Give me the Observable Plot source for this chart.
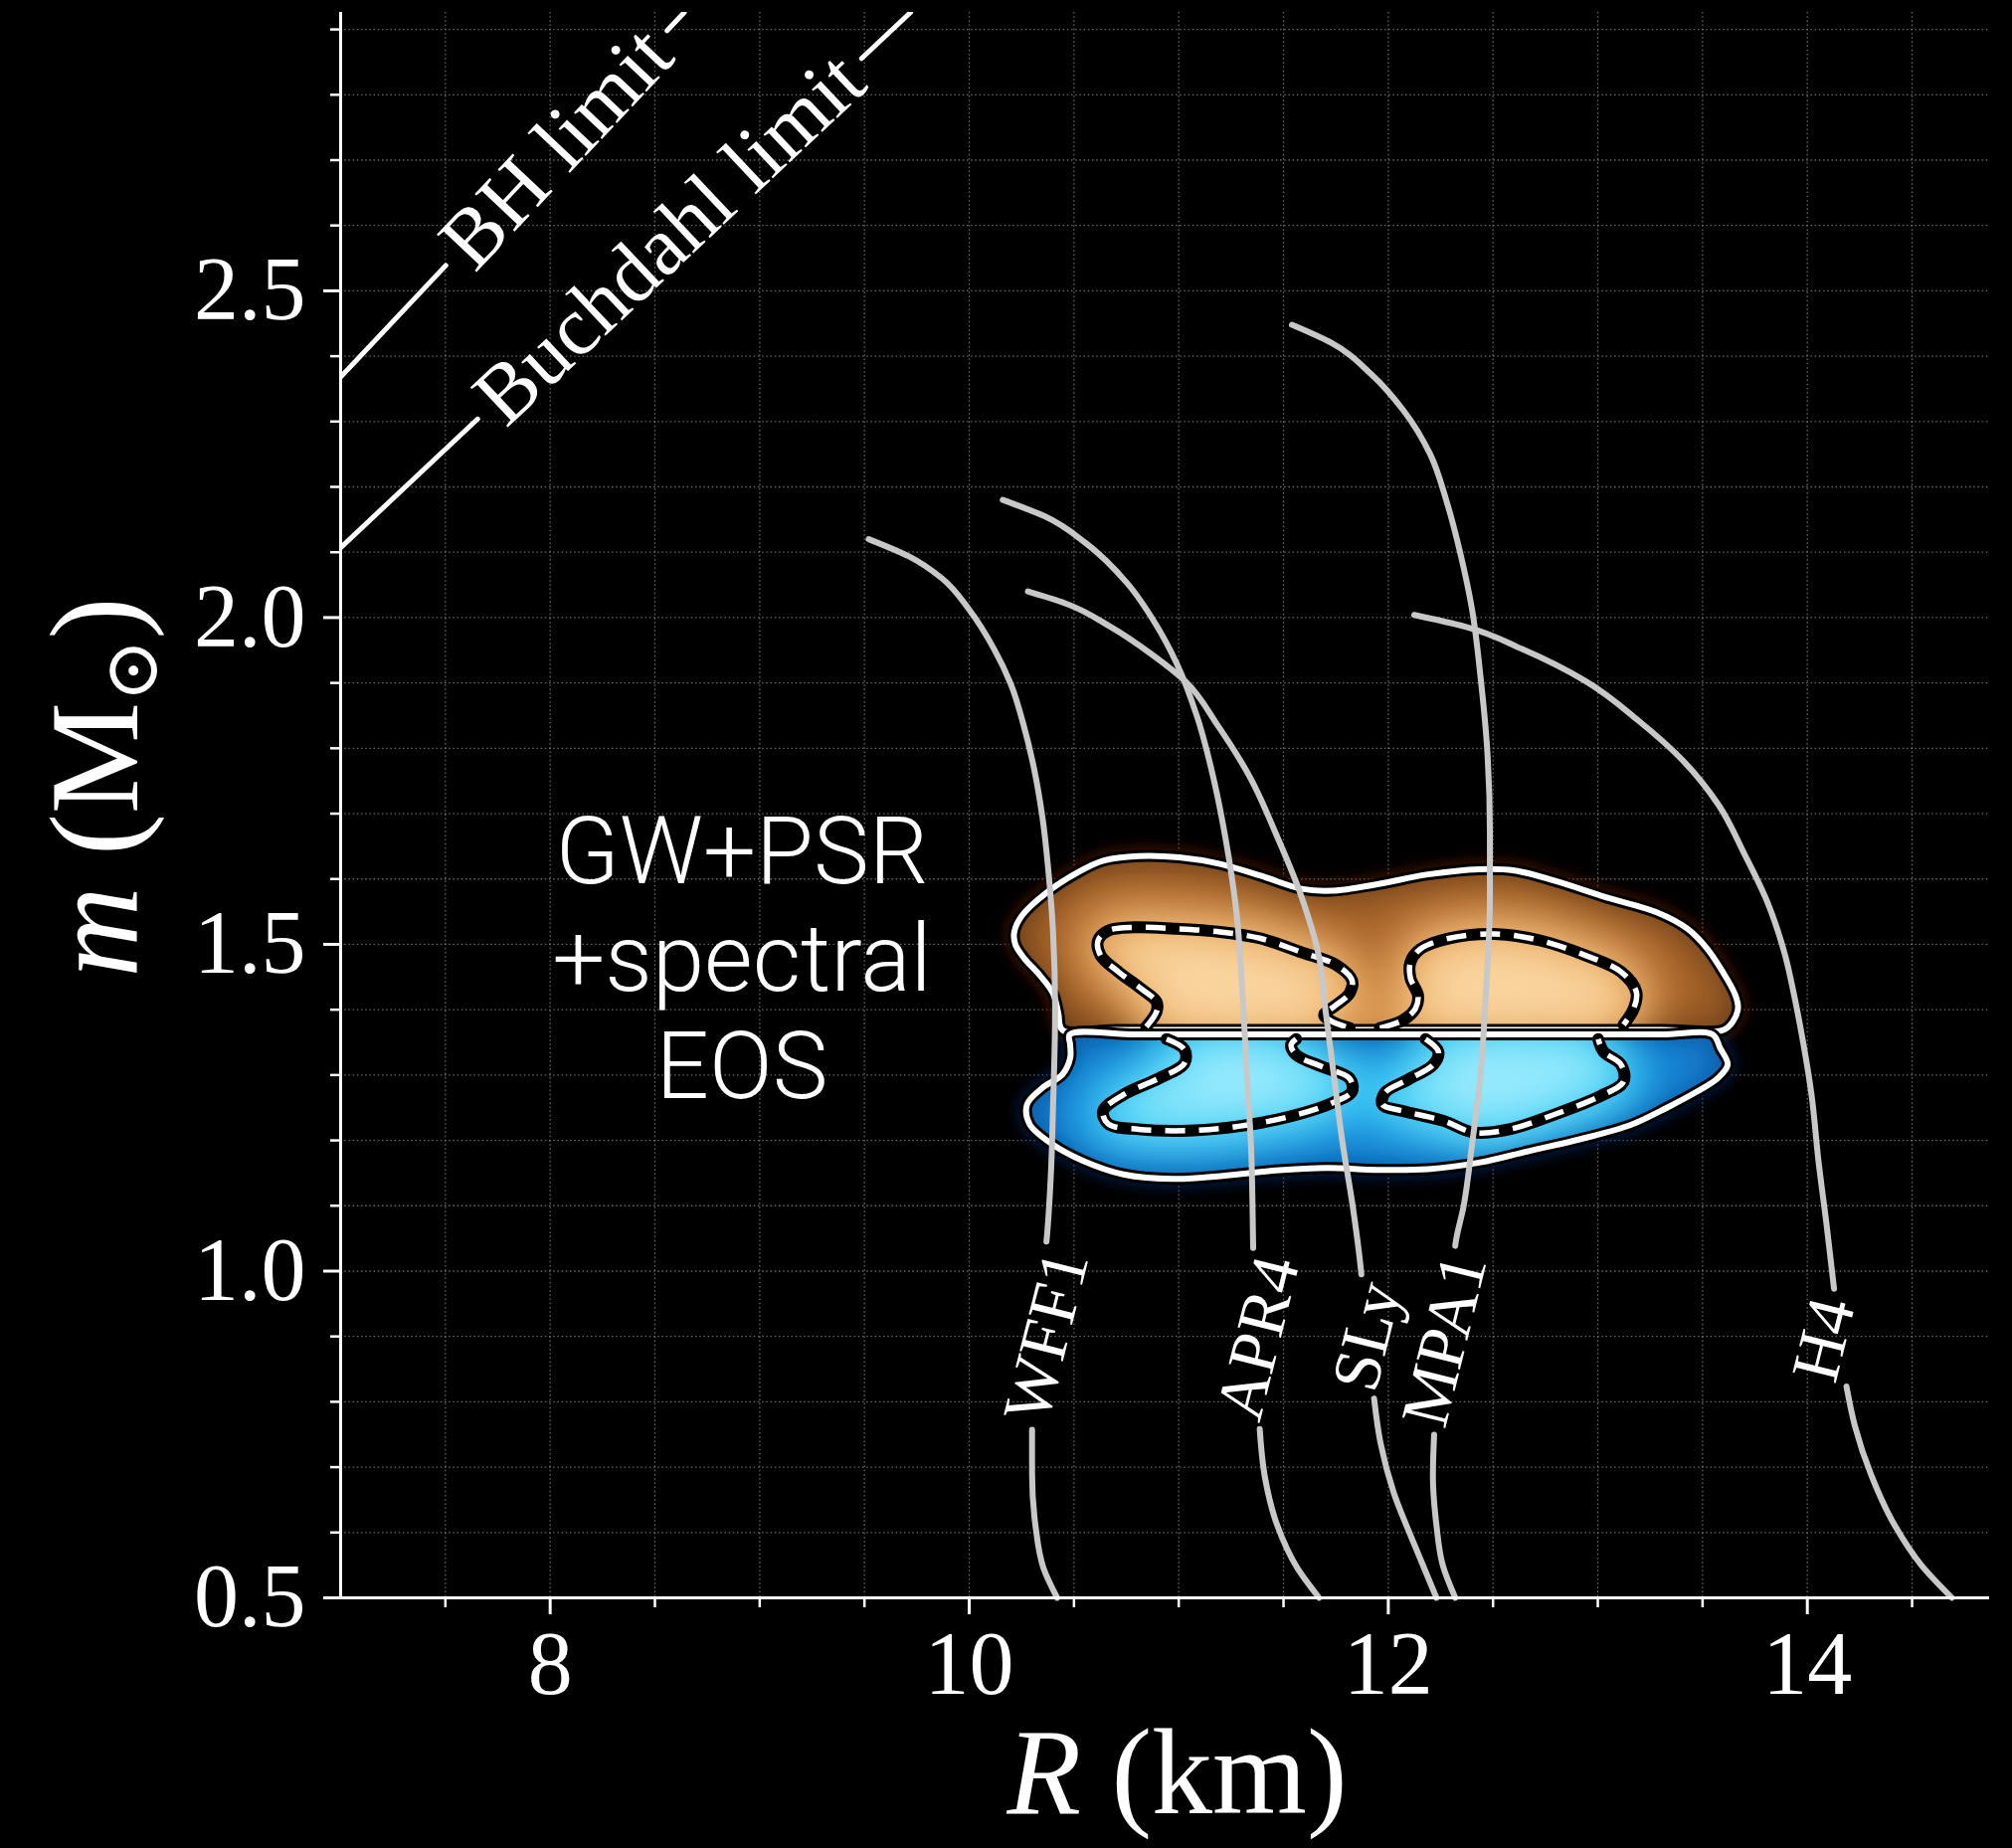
<!DOCTYPE html>
<html>
<head>
<meta charset="utf-8">
<script src="https://cdn.jsdelivr.net/npm/d3@7"></script>
<script src="https://cdn.jsdelivr.net/npm/@observablehq/plot@0.6"></script>
<style>
html, body { margin: 0; padding: 0; background: #000; }
#chart { width: 2023px; height: 1858px; }
</style>
</head>
<body>
<div id="chart"></div>
<script>
// ---------------- DATA ----------------
// Mass–radius curves [R (km), m (Msun)]
const eosNames = ["WFF1", "APR4", "SLy", "MPA1", "H4"];
const wff1 = [[9.52,2.12],[9.71,2.094],[9.87,2.06],[10.0,2.012],[10.12,1.951],[10.2,1.897],[10.26,1.835],[10.31,1.768],[10.35,1.693],[10.38,1.605],[10.40,1.52],[10.41,1.40],[10.40,1.25],[10.39,1.15],[10.37,1.05],[10.34,0.95],[10.31,0.85],[10.30,0.76],[10.30,0.69],[10.316,0.611],[10.355,0.545],[10.42,0.5]];
const apr4 = [[10.16,2.18],[10.36,2.155],[10.556,2.114],[10.753,2.053],[10.89,1.99],[10.99,1.93],[11.087,1.849],[11.166,1.754],[11.225,1.659],[11.275,1.55],[11.305,1.42],[11.325,1.30],[11.345,1.19],[11.355,1.04],[11.36,0.95],[11.37,0.85],[11.385,0.763],[11.41,0.687],[11.47,0.611],[11.567,0.545],[11.67,0.5]];
const sly  = [[10.28,2.04],[10.457,2.022],[10.674,1.986],[10.87,1.944],[11.03,1.903],[11.186,1.835],[11.343,1.754],[11.46,1.672],[11.58,1.578],[11.67,1.48],[11.70,1.40],[11.74,1.30],[11.78,1.20],[11.83,1.10],[11.87,1.0],[11.90,0.90],[11.93,0.81],[11.963,0.737],[12.026,0.661],[12.12,0.585],[12.23,0.5]];
const mpa1 = [[11.54,2.448],[11.73,2.42],[11.92,2.372],[12.07,2.318],[12.20,2.25],[12.28,2.176],[12.347,2.094],[12.40,2.012],[12.44,1.91],[12.47,1.808],[12.485,1.672],[12.485,1.57],[12.465,1.42],[12.44,1.30],[12.40,1.194],[12.36,1.10],[12.32,1.04],[12.27,0.90],[12.22,0.763],[12.213,0.687],[12.23,0.611],[12.26,0.55],[12.32,0.5]];
const h4   = [[12.124,2.004],[12.368,1.986],[12.644,1.951],[12.94,1.903],[13.195,1.842],[13.407,1.781],[13.577,1.713],[13.70,1.638],[13.81,1.564],[13.895,1.482],[13.937,1.422],[13.98,1.35],[14.02,1.27],[14.053,1.169],[14.093,1.068],[14.13,0.966],[14.155,0.90],[14.183,0.829],[14.227,0.763],[14.306,0.687],[14.417,0.611],[14.544,0.55],[14.69,0.5]];
const eosCurves = [wff1, apr4, sly, mpa1, h4];
// inline label positions (R, m)
const eosLabelR = [10.37, 11.38, 11.90, 12.27, 14.08];
const eosLabelM = [0.90, 0.897, 0.90, 0.894, 0.895];

// Limits (straight lines, endpoints)
const limitNames = ["BH limit", "Buchdahl limit"];
const bhLine = [[7.0, 2.368], [8.64, 2.926]];
const buchLine = [[7.0, 2.107], [9.72, 2.926]];
const limitLabelR = [8.03, 8.57];

// Credible regions: outer (90%) and inner (50%) contours
const orangeOuter = [[10.215,1.519],[10.252,1.544],[10.373,1.58],[10.518,1.61],[10.639,1.628],[10.809,1.635],[11.003,1.633],[11.197,1.623],[11.391,1.605],[11.585,1.585],[11.73,1.582],[11.948,1.592],[12.19,1.607],[12.433,1.615],[12.602,1.613],[12.796,1.597],[13.039,1.572],[13.281,1.549],[13.427,1.524],[13.523,1.493],[13.596,1.458],[13.657,1.422],[13.669,1.402],[13.645,1.382],[13.6,1.369],[13.3,1.369],[12.5,1.369],[11.5,1.369],[10.7,1.369],[10.445,1.369],[10.425,1.395],[10.40,1.425],[10.336,1.453],[10.264,1.478],[10.22,1.50]];
const blueOuter = [[10.48,1.362],[10.8,1.362],[11.5,1.362],[12.5,1.362],[13.3,1.362],[13.548,1.362],[13.584,1.341],[13.62,1.316],[13.572,1.295],[13.475,1.275],[13.33,1.25],[13.16,1.224],[12.918,1.202],[12.675,1.184],[12.433,1.166],[12.19,1.156],[11.948,1.155],[11.706,1.158],[11.463,1.154],[11.221,1.146],[10.979,1.141],[10.736,1.148],[10.542,1.169],[10.397,1.194],[10.288,1.225],[10.276,1.255],[10.348,1.28],[10.445,1.301],[10.482,1.326],[10.482,1.346]];
const orangeLobeL = [[10.845,1.374],[10.894,1.397],[10.894,1.412],[10.821,1.432],[10.712,1.458],[10.627,1.483],[10.615,1.506],[10.664,1.521],[10.785,1.526],[10.979,1.524],[11.197,1.519],[11.391,1.509],[11.585,1.488],[11.754,1.468],[11.827,1.445],[11.815,1.425],[11.742,1.405],[11.694,1.392],[11.73,1.382],[11.815,1.372]];
const orangeLobeR = [[11.96,1.372],[12.07,1.384],[12.13,1.402],[12.142,1.422],[12.106,1.448],[12.106,1.473],[12.154,1.493],[12.287,1.509],[12.505,1.516],[12.724,1.506],[12.942,1.483],[13.111,1.458],[13.184,1.427],[13.172,1.402],[13.123,1.377]];
const blueLobeL = [[10.942,1.355],[11.027,1.339],[11.027,1.318],[10.906,1.295],[10.736,1.27],[10.639,1.245],[10.664,1.225],[10.809,1.217],[11.051,1.215],[11.294,1.222],[11.536,1.237],[11.73,1.257],[11.827,1.275],[11.815,1.295],[11.682,1.313],[11.56,1.331],[11.536,1.346],[11.56,1.355]];
const blueLobeR = [[12.178,1.355],[12.239,1.336],[12.215,1.316],[12.094,1.293],[11.984,1.273],[11.972,1.255],[12.069,1.245],[12.263,1.23],[12.409,1.212],[12.578,1.217],[12.796,1.24],[13.014,1.268],[13.123,1.29],[13.111,1.316],[13.027,1.336],[13.002,1.355]];

// Annotation
const annotLines = ["GW+PSR", "+spectral", "EOS"];
const annotR = 8.915, annotM = 1.71;

// Ticks
const majorX = [8, 10, 12, 14];
const minorX = [7.5, 8.5, 9, 9.5, 10.5, 11, 11.5, 12.5, 13, 13.5, 14.5];
const majorY = [0.5, 1.0, 1.5, 2.0, 2.5];
const minorY = [0.6, 0.7, 0.8, 0.9, 1.1, 1.2, 1.3, 1.4, 1.6, 1.7, 1.8, 1.9, 2.1, 2.2, 2.3, 2.4, 2.6, 2.7, 2.8, 2.9];
const gridX = [7.5, 8, 8.5, 9, 9.5, 10, 10.5, 11, 11.5, 12, 12.5, 13, 13.5, 14, 14.5];
const gridY = [0.6, 0.7, 0.8, 0.9, 1.0, 1.1, 1.2, 1.3, 1.4, 1.5, 1.6, 1.7, 1.8, 1.9, 2.0, 2.1, 2.2, 2.3, 2.4, 2.5, 2.6, 2.7, 2.8, 2.9];

// ---------------- LAYOUT ----------------
const W = 2023, H = 1858;
const mL = 342, mR = 23, mT = 12, mB = 252;
const xDomain = [7, 14.87], yDomain = [0.5, 2.926];
const xs = d3.scaleLinear(xDomain, [mL, W - mR]);
const ys = d3.scaleLinear(yDomain, [H - mB, mT]);
const SERIF = '"Liberation Serif", "Times New Roman", serif';

const ctx = document.createElement("canvas").getContext("2d");
function textWidth(str, size, family) { ctx.font = `${size}px ${family}`; return ctx.measureText(str).width; }

// remove the part of a polyline hidden under an inline label
function cutGap(pts, cR, cM, half) {
  const P = pts.map(([R, m]) => [xs(R), ys(m)]);
  const s = [0];
  for (let i = 1; i < P.length; i++) s.push(s[i-1] + Math.hypot(P[i][0]-P[i-1][0], P[i][1]-P[i-1][1]));
  const Cc = [xs(cR), ys(cM)];
  let best = Infinity, sc = 0;
  for (let i = 0; i < P.length - 1; i++) {
    const [ax, ay] = P[i], [bx, by] = P[i+1];
    const dx = bx - ax, dy = by - ay, L2 = dx*dx + dy*dy;
    let t = L2 ? ((Cc[0]-ax)*dx + (Cc[1]-ay)*dy) / L2 : 0;
    t = Math.max(0, Math.min(1, t));
    const d = Math.hypot(ax + t*dx - Cc[0], ay + t*dy - Cc[1]);
    if (d < best) { best = d; sc = s[i] + t*(s[i+1]-s[i]); }
  }
  const at = (sv) => {
    for (let i = 0; i < P.length - 1; i++) {
      if (sv <= s[i+1]) {
        const t = (sv - s[i]) / (s[i+1] - s[i]);
        return [pts[i][0] + t*(pts[i+1][0]-pts[i][0]), pts[i][1] + t*(pts[i+1][1]-pts[i][1])];
      }
    }
    return pts[pts.length - 1];
  };
  const s0 = sc - half, s1 = sc + half;
  const a = pts.filter((p, i) => s[i] < s0);
  if (s0 > 0) a.push(at(s0));
  const b = [];
  if (s1 < s[s.length-1]) b.push(at(s1));
  pts.forEach((p, i) => { if (s[i] > s1) b.push(p); });
  return [a, b];
}

// EOS curve rows (with gaps under labels)
const EOS_FONT = 68;
const eosRows = [];
const eosLabelRows = [];
eosCurves.forEach((pts, k) => {
  const w = textWidth(eosNames[k], EOS_FONT, SERIF);
  const [a, b] = cutGap(pts, eosLabelR[k], eosLabelM[k], w / 2 + 8);
  a.forEach(([R, m]) => eosRows.push({seg: eosNames[k] + "-a", R, m}));
  b.forEach(([R, m]) => eosRows.push({seg: eosNames[k] + "-b", R, m}));
  eosLabelRows.push({name: eosNames[k], R: eosLabelR[k], m: eosLabelM[k]});
});

// limit lines
const LIM_FONT = 84;
const limitRows = [];
const limitLabelRows = [];
[bhLine, buchLine].forEach((pts, k) => {
  const [[R1, m1], [R2, m2]] = pts;
  const R = limitLabelR[k];
  const m = m1 + (R - R1) * (m2 - m1) / (R2 - R1);
  const w = textWidth(limitNames[k], LIM_FONT, SERIF);
  const [a, b] = cutGap(pts, R, m, w / 2 + 14);
  a.forEach(([r, mm]) => limitRows.push({seg: limitNames[k] + "-a", R: r, m: mm}));
  b.forEach(([r, mm]) => limitRows.push({seg: limitNames[k] + "-b", R: r, m: mm}));
  const ang = Math.atan2(ys(m2) - ys(m1), xs(R2) - xs(R1)) * 180 / Math.PI;
  limitLabelRows.push({name: limitNames[k], R, m, ang});
});

const toRows = (pts, id) => pts.map(([R, m]) => ({id, R, m}));
const oOuter = toRows(orangeOuter, "o");
const bOuter = toRows(blueOuter, "b");
const oLobes = [...toRows(orangeLobeL, "oL"), ...toRows(orangeLobeR, "oR")];
const bLobes = [...toRows(blueLobeL, "bL"), ...toRows(blueLobeR, "bR")];

// colours (unique strings so layers can be found for filters)
const C = {
  oGlow: "#5c1e04", bGlow: "#062a6a",
  oBase: "#553010", oEdge: "#a6632a", oMid: "#eda452", oLight: "#ffe9bf",
  bBase: "#0a4890", bEdge: "#1686d8", bMid: "#28ccf6", bLight: "#c6f7ff"
};

const gridStyle = {stroke: "#8a8a8a", strokeOpacity: 0.75, strokeWidth: 1.3, strokeDasharray: "1.5,2.7"};
const closed = {x: "R", y: "m", z: "id", curve: "catmull-rom-closed"};
const open = {x: "R", y: "m", z: "id", curve: "catmull-rom"};

function blobMarks(outer, lobes, base, edge, mid, light) {
  return [
    Plot.line(outer, {...closed, fill: base, stroke: "none"}),
    Plot.line(outer, {...closed, fill: edge, stroke: "none"}),
    Plot.line(lobes, {...closed, fill: mid, stroke: mid, strokeWidth: 36}),
    Plot.line(lobes, {...closed, fill: light, stroke: "none"}),
    Plot.line(outer, {...closed, fill: "none", stroke: "black", strokeWidth: 12}),
    Plot.line(outer, {...closed, fill: "none", stroke: "white", strokeWidth: 6}),
    Plot.line(lobes, {...open, fill: "none", stroke: "black", strokeWidth: 12}),
    Plot.line(lobes, {...open, fill: "none", stroke: "white", strokeWidth: 5.5, strokeDasharray: "20,14", strokeLinecap: "butt"})
  ];
}

const chart = Plot.plot({
  width: W, height: H,
  marginLeft: mL, marginRight: mR, marginTop: mT, marginBottom: mB,
  x: {domain: xDomain},
  y: {domain: yDomain},
  style: {background: "black", color: "white", overflow: "visible"},
  marks: [
    Plot.gridX(gridX, gridStyle),
    Plot.gridY(gridY, gridStyle),
    Plot.line(oOuter, {...closed, fill: C.oGlow, stroke: C.oGlow, strokeWidth: 10}),
    Plot.line(bOuter, {...closed, fill: C.bGlow, stroke: C.bGlow, strokeWidth: 10}),
    ...blobMarks(oOuter, oLobes, C.oBase, C.oEdge, C.oMid, C.oLight),
    ...blobMarks(bOuter, bLobes, C.bBase, C.bEdge, C.bMid, C.bLight),
    Plot.line(eosRows, {x: "R", y: "m", z: "seg", curve: "monotone-y", stroke: "#c8c8c8", strokeWidth: 6}),
    Plot.text(eosLabelRows, {x: "R", y: "m", text: "name", rotate: -76, fill: "white", fontSize: EOS_FONT, fontFamily: SERIF}),
    Plot.line(limitRows, {x: "R", y: "m", z: "seg", stroke: "white", strokeWidth: 5, clip: true}),
    Plot.text([limitLabelRows[0]], {x: "R", y: "m", text: "name", rotate: limitLabelRows[0].ang, fill: "white", fontSize: LIM_FONT, fontFamily: SERIF}),
    Plot.text([limitLabelRows[1]], {x: "R", y: "m", text: "name", rotate: limitLabelRows[1].ang, fill: "white", fontSize: LIM_FONT, fontFamily: SERIF}),
    Plot.text([{t: annotLines.join("\n"), R: annotR, m: annotM}], {x: "R", y: "m", text: "t", lineAnchor: "top", lineHeight: 1.15, fill: "white", fontSize: 94, fontFamily: "Roboto, 'Open Sans', sans-serif", fontWeight: 300}),
    Plot.ruleX([7], {stroke: "white", strokeWidth: 3}),
    Plot.ruleY([0.5], {stroke: "white", strokeWidth: 3}),
    Plot.axisX(minorX, {tickSize: 10, strokeWidth: 2.5, tickFormat: () => "", label: null}),
    Plot.axisX(majorX, {tickSize: 17, strokeWidth: 3, tickPadding: 16, fontSize: 90, fontFamily: SERIF, tickFormat: d => String(d), label: "R (km)", labelAnchor: "center", labelOffset: 216, labelArrow: "none"}),
    Plot.axisY(minorY, {tickSize: 10, strokeWidth: 2.5, tickFormat: () => "", label: null}),
    Plot.axisY(majorY, {tickSize: 17, strokeWidth: 3, tickPadding: 18, fontSize: 90, fontFamily: SERIF, tickFormat: d3.format(".1f"), label: "m (M⊙)", labelAnchor: "center", labelOffset: 294, labelArrow: "none"})
  ]
});
document.getElementById("chart").appendChild(chart);

// ---------- post-processing: blur, clipping and rich axis labels ----------
const svgNS = "http://www.w3.org/2000/svg";
const svg = chart.tagName.toLowerCase() === "svg" ? chart : chart.querySelector("svg");
const defs = document.createElementNS(svgNS, "defs");
svg.insertBefore(defs, svg.firstChild);
function addBlur(id, sd) {
  const f = document.createElementNS(svgNS, "filter");
  f.setAttribute("id", id); f.setAttribute("x", "-50%"); f.setAttribute("y", "-50%");
  f.setAttribute("width", "200%"); f.setAttribute("height", "200%");
  const g = document.createElementNS(svgNS, "feGaussianBlur");
  g.setAttribute("stdDeviation", sd);
  f.appendChild(g); defs.appendChild(f);
}
addBlur("glow", 9); addBlur("blurEdge", 22); addBlur("blurMid", 24); addBlur("blurLight", 26);
const byFill = (c) => svg.querySelector(`g[fill="${c}"]`);
function addClip(id, color) {
  const g = byFill(color); if (!g) return;
  const p = g.querySelector("path"); if (!p) return;
  const cp = document.createElementNS(svgNS, "clipPath"); cp.setAttribute("id", id);
  const pp = document.createElementNS(svgNS, "path"); pp.setAttribute("d", p.getAttribute("d"));
  cp.appendChild(pp); defs.appendChild(cp);
}
addClip("clipO", C.oBase); addClip("clipB", C.bBase);
function style(color, filter, clip, opacity) {
  const g = byFill(color); if (!g) return;
  g.setAttribute("filter", `url(#${filter})`);
  if (clip) g.setAttribute("clip-path", `url(#${clip})`);
  if (opacity != null) g.setAttribute("opacity", opacity);
}
style(C.oGlow, "glow", null, 0.95); style(C.bGlow, "glow", null, 0.95);
style(C.oEdge, "blurEdge", "clipO"); style(C.bEdge, "blurEdge", "clipB");
style(C.oMid, "blurMid", "clipO", 0.97); style(C.bMid, "blurMid", "clipB", 0.97);
style(C.oLight, "blurLight", "clipO", 0.72); style(C.bLight, "blurLight", "clipB", 0.72);

function rich(match, parts, shift, size) {
  const t = [...svg.querySelectorAll("text")].find(e => e.textContent.includes(match));
  if (!t) return;
  t.textContent = "";
  t.setAttribute("font-size", size);
  t.setAttribute("font-family", SERIF);
  if (shift) t.setAttribute("x", shift);
  for (const p of parts) {
    const s = document.createElementNS(svgNS, "tspan");
    s.textContent = p.text;
    if (p.italic) s.setAttribute("font-style", "italic");
    if (p.size) s.setAttribute("font-size", p.size);
    if (p.family) s.setAttribute("font-family", p.family);
    if (p.dy) s.setAttribute("dy", p.dy);
    t.appendChild(s);
  }
}
rich("(km)", [{text: "R", italic: true}, {text: " (km)"}], 12, 122);
rich("M⊙", [{text: "m", italic: true}, {text: " (M"}, {text: "⊙", size: 76, family: "DejaVu Serif", dy: 20}, {text: ")", dy: -20}], 18, 126);
</script>
</body>
</html>
